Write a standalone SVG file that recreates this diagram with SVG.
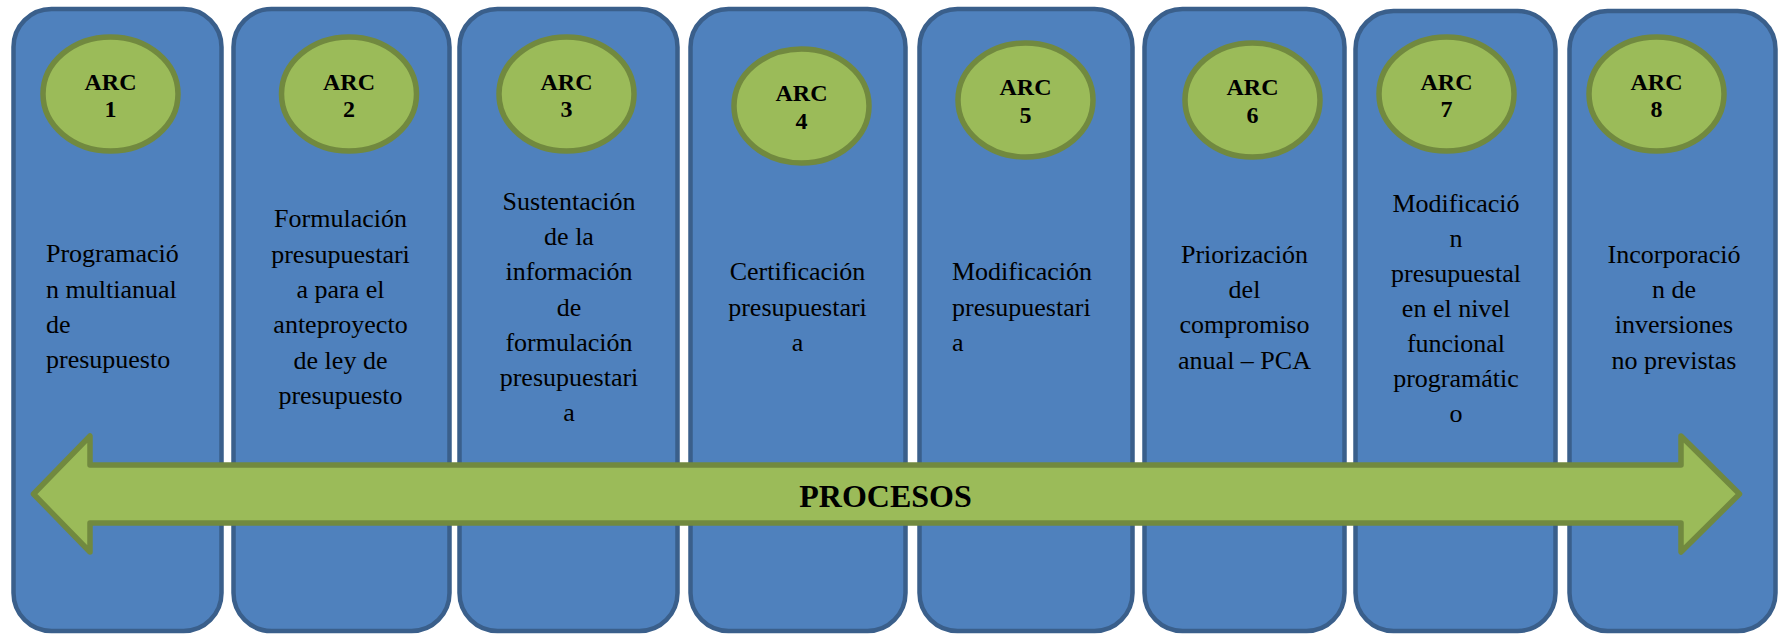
<svg xmlns="http://www.w3.org/2000/svg" width="1778" height="635" viewBox="0 0 1778 635">
<style>
.box{fill:#4F81BD;stroke:#3A5F8B;stroke-width:4.5}
.ell{fill:#9BBB59;stroke:#71893F;stroke-width:5.5}
.arc{font-family:"Liberation Serif","Times New Roman",serif;font-weight:bold;font-size:24px;fill:#000;text-anchor:middle}
.t{font-family:"Liberation Serif","Times New Roman",serif;font-size:26px;fill:#000}
.c{text-anchor:middle}
.l{text-anchor:start}
.proc{font-family:"Liberation Serif","Times New Roman",serif;font-weight:bold;font-size:32px;fill:#000;text-anchor:middle}
.arrow{fill:#9BBB59;stroke:#71893F;stroke-width:5.5;stroke-linejoin:round}
</style>
<rect width="1778" height="635" fill="#FFFFFF"/>
<g id="node-arc1">
<rect class="box" x="13.5" y="9" width="208" height="622" rx="38" ry="38"/>
<ellipse class="ell" cx="110.5" cy="94" rx="67.5" ry="57"/>
<text class="arc" x="110.5" y="89.5">ARC</text>
<text class="arc" x="110.5" y="117">1</text>
<text class="t l"><tspan x="46" y="262">Programació</tspan><tspan x="46" y="297.5">n multianual</tspan><tspan x="46" y="333">de</tspan><tspan x="46" y="368">presupuesto</tspan></text>
</g>
<g id="node-arc2">
<rect class="box" x="233.5" y="9" width="216" height="622" rx="38" ry="38"/>
<ellipse class="ell" cx="349" cy="94" rx="67.5" ry="57"/>
<text class="arc" x="349" y="89.5">ARC</text>
<text class="arc" x="349" y="117">2</text>
<text class="t c"><tspan x="340.5" y="227">Formulación</tspan><tspan x="340.5" y="262.5">presupuestari</tspan><tspan x="340.5" y="298">a para el</tspan><tspan x="340.5" y="333">anteproyecto</tspan><tspan x="340.5" y="368.5">de ley de</tspan><tspan x="340.5" y="403.5">presupuesto</tspan></text>
</g>
<g id="node-arc3">
<rect class="box" x="459.5" y="9" width="218" height="622" rx="38" ry="38"/>
<ellipse class="ell" cx="566.5" cy="94" rx="67.5" ry="57"/>
<text class="arc" x="566.5" y="89.5">ARC</text>
<text class="arc" x="566.5" y="117">3</text>
<text class="t c"><tspan x="569" y="209.5">Sustentación</tspan><tspan x="569" y="245">de la</tspan><tspan x="569" y="280">información</tspan><tspan x="569" y="315.5">de</tspan><tspan x="569" y="350.5">formulación</tspan><tspan x="569" y="385.5">presupuestari</tspan><tspan x="569" y="421">a</tspan></text>
</g>
<g id="node-arc4">
<rect class="box" x="690.5" y="9" width="215" height="622" rx="38" ry="38"/>
<ellipse class="ell" cx="801.5" cy="106" rx="67.5" ry="57"/>
<text class="arc" x="801.5" y="101">ARC</text>
<text class="arc" x="801.5" y="128.5">4</text>
<text class="t c"><tspan x="797.5" y="280">Certificación</tspan><tspan x="797.5" y="315.5">presupuestari</tspan><tspan x="797.5" y="350.5">a</tspan></text>
</g>
<g id="node-arc5">
<rect class="box" x="919.5" y="9" width="213" height="622" rx="38" ry="38"/>
<ellipse class="ell" cx="1025.5" cy="100" rx="67.5" ry="57"/>
<text class="arc" x="1025.5" y="95">ARC</text>
<text class="arc" x="1025.5" y="122.5">5</text>
<text class="t l"><tspan x="952" y="280">Modificación</tspan><tspan x="952" y="315.5">presupuestari</tspan><tspan x="952" y="350.5">a</tspan></text>
</g>
<g id="node-arc6">
<rect class="box" x="1144.5" y="9" width="200" height="622" rx="38" ry="38"/>
<ellipse class="ell" cx="1252.5" cy="100" rx="67.5" ry="57"/>
<text class="arc" x="1252.5" y="95">ARC</text>
<text class="arc" x="1252.5" y="122.5">6</text>
<text class="t c"><tspan x="1244.5" y="262.5">Priorización</tspan><tspan x="1244.5" y="298">del</tspan><tspan x="1244.5" y="333">compromiso</tspan><tspan x="1244.5" y="368.5">anual – PCA</tspan></text>
</g>
<g id="node-arc7">
<rect class="box" x="1355.5" y="11" width="200" height="620" rx="38" ry="38"/>
<ellipse class="ell" cx="1446.5" cy="94" rx="67.5" ry="57"/>
<text class="arc" x="1446.5" y="89.5">ARC</text>
<text class="arc" x="1446.5" y="117">7</text>
<text class="t c"><tspan x="1456" y="211.5">Modificació</tspan><tspan x="1456" y="246.5">n</tspan><tspan x="1456" y="281.5">presupuestal</tspan><tspan x="1456" y="316.5">en el nivel</tspan><tspan x="1456" y="351.5">funcional</tspan><tspan x="1456" y="386.5">programátic</tspan><tspan x="1456" y="421.5">o</tspan></text>
</g>
<g id="node-arc8">
<rect class="box" x="1569.5" y="11" width="206" height="620" rx="38" ry="38"/>
<ellipse class="ell" cx="1656.5" cy="94" rx="67.5" ry="57"/>
<text class="arc" x="1656.5" y="89.5">ARC</text>
<text class="arc" x="1656.5" y="117">8</text>
<text class="t c"><tspan x="1674" y="262.5">Incorporació</tspan><tspan x="1674" y="298">n de</tspan><tspan x="1674" y="333">inversiones</tspan><tspan x="1674" y="368.5">no previstas</tspan></text>
</g>
<g id="connectors">
<g id="procesos-arrow">
<path class="arrow" d="M33.5,494 L90,436 L90,465 L1681,465 L1681,436 L1739.5,494 L1681,552 L1681,523 L90,523 L90,552 Z"/>
<text class="proc" x="885.5" y="507">PROCESOS</text>
</g>
</g>
</svg>
